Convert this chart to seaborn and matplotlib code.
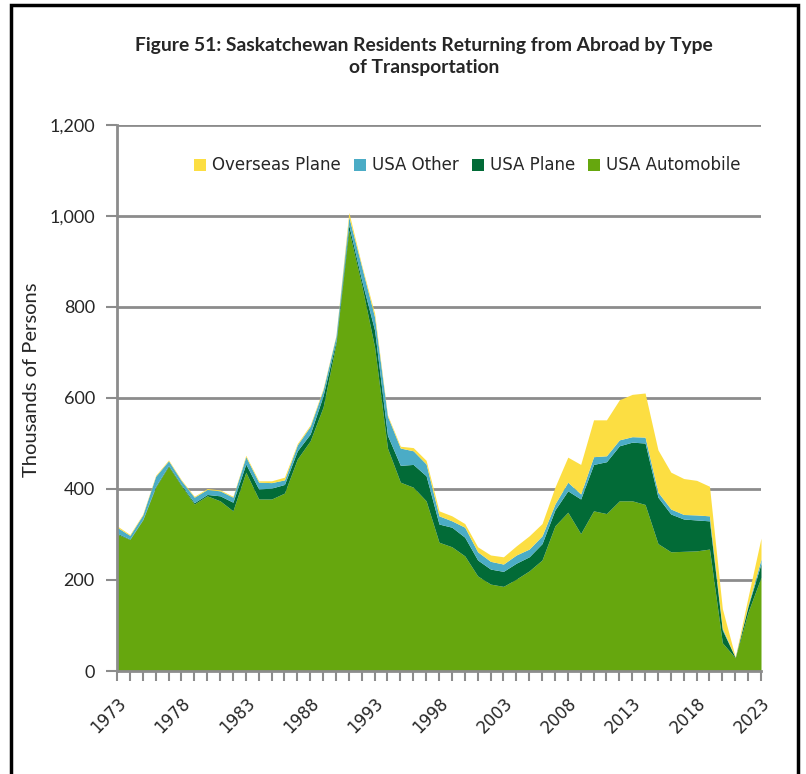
import matplotlib
matplotlib.use("Agg")
import matplotlib.pyplot as plt
from matplotlib.patches import Rectangle
from matplotlib.ticker import FuncFormatter, MultipleLocator
import pandas as pd
import seaborn as sns

years = list(range(1973, 2024))

usa_automobile = [301, 289, 332, 404, 450, 407, 367, 385, 374, 352,
                  437, 378, 378, 391, 466, 506, 580, 719, 969, 848,
                  712, 490, 415, 404, 374, 283, 273, 253, 209, 191,
                  186, 202, 220, 244, 319, 349, 302, 352, 346, 374,
                  374, 366, 280, 262, 263, 264, 268, 62, 29, 130, 206]
usa_plane = [2, 1, 1, 2, 2, 2, 3, 3, 11, 19,
             18, 22, 24, 19, 18, 15, 25, 6, 11, 10,
             37, 28, 37, 50, 55, 40, 43, 41, 35, 33,
             33, 35, 31, 36, 35, 47, 76, 102, 114, 121,
             129, 135, 102, 83, 71, 68, 62, 28, 1, 13, 30]
usa_other = [13, 8, 10, 22, 10, 9, 12, 11, 11, 11,
             16, 15, 12, 10, 13, 17, 13, 11, 18, 30,
             29, 42, 38, 30, 26, 18, 14, 22, 18, 17,
             16, 18, 17, 17, 13, 19, 11, 17, 13, 13,
             12, 13, 11, 11, 10, 11, 11, 4, 0, 3, 10]
overseas_plane = [3, 2, 2, 2, 2, 2, 2, 2, 2, 2,
                  3, 3, 4, 6, 3, 3, 3, 2, 10, 4,
                  8, 3, 4, 7, 8, 11, 11, 8, 11, 14,
                  16, 20, 29, 27, 37, 55, 65, 81, 79, 88,
                  93, 97, 93, 81, 79, 76, 65, 43, 1, 17, 46]

series_names = ["USA Automobile", "USA Plane", "USA Other", "Overseas Plane"]
series_colors = ["#66A70E", "#026B37", "#4BACC6", "#FCDE42"]

df = pd.DataFrame({
    "Year": years,
    "USA Automobile": usa_automobile,
    "USA Plane": usa_plane,
    "USA Other": usa_other,
    "Overseas Plane": overseas_plane,
})

sns.set_style("white")
plt.rcParams["font.family"] = ["Lato", "DejaVu Sans"]

fig = plt.figure(figsize=(8.06, 7.74), dpi=100)
ax = fig.add_axes([117 / 806, 1 - 671 / 774, (761 - 117) / 806, (671 - 125) / 774])

grid_color = "#8C8C8C"
for v in range(200, 1201, 200):
    ax.axhline(v, color=grid_color, lw=2, zorder=0)

ax.stackplot(df["Year"], [df[c] for c in series_names],
             colors=series_colors, labels=series_names, lw=0, zorder=2)

ax.set_xlim(1973, 2023)
ax.set_ylim(0, 1200)
ax.yaxis.set_major_locator(MultipleLocator(200))
ax.yaxis.set_major_formatter(FuncFormatter(lambda v, p: f"{int(v):,}"))
ax.set_xticks(list(range(1973, 2024, 5)))
ax.xaxis.set_minor_locator(MultipleLocator(1))

for side in ["top", "right"]:
    ax.spines[side].set_visible(False)
for side in ["left", "bottom"]:
    ax.spines[side].set_color(grid_color)
    ax.spines[side].set_linewidth(2)
    ax.spines[side].set_zorder(3)

ax.tick_params(axis="y", which="major", direction="out", length=8, width=1.5,
               color=grid_color, labelsize=13, pad=8, left=True)
ax.tick_params(axis="x", which="both", direction="out", length=7, width=1.5,
               color=grid_color, pad=10, bottom=True)
for lbl in ax.get_xticklabels():
    lbl.set_fontfamily("DejaVu Sans")
    lbl.set_fontsize(12)
    lbl.set_rotation(45)
    lbl.set_ha("right")
    lbl.set_va("top")
    lbl.set_rotation_mode("anchor")

ax.set_ylabel("Thousands of Persons", fontsize=14.5)
ax.yaxis.set_label_coords(-0.1196, 0.533)

handles, labels = ax.get_legend_handles_labels()
ax.legend(handles[::-1], labels[::-1], loc="center left",
          bbox_to_anchor=(0.1196, 0.926), ncol=4, frameon=False,
          prop={"family": "DejaVu Sans", "size": 12},
          handlelength=0.72, handleheight=0.72, handletextpad=0.36,
          columnspacing=0.78, borderaxespad=0, borderpad=0)

fig.text(424 / 806, 1 - 45 / 774, "Figure 51: Saskatchewan Residents Returning from Abroad by Type",
         ha="center", va="center", fontsize=13.9, fontweight="bold")
fig.text(424 / 806, 1 - 68 / 774, "of Transportation",
         ha="center", va="center", fontsize=13.9, fontweight="bold")

fig.patches.append(Rectangle((11 / 806, -0.01), (798 - 11) / 806, 1 - 5 / 774 + 0.01,
                             transform=fig.transFigure, fill=False,
                             edgecolor="black", lw=2.5))

fig.savefig("out.png", dpi=100)
